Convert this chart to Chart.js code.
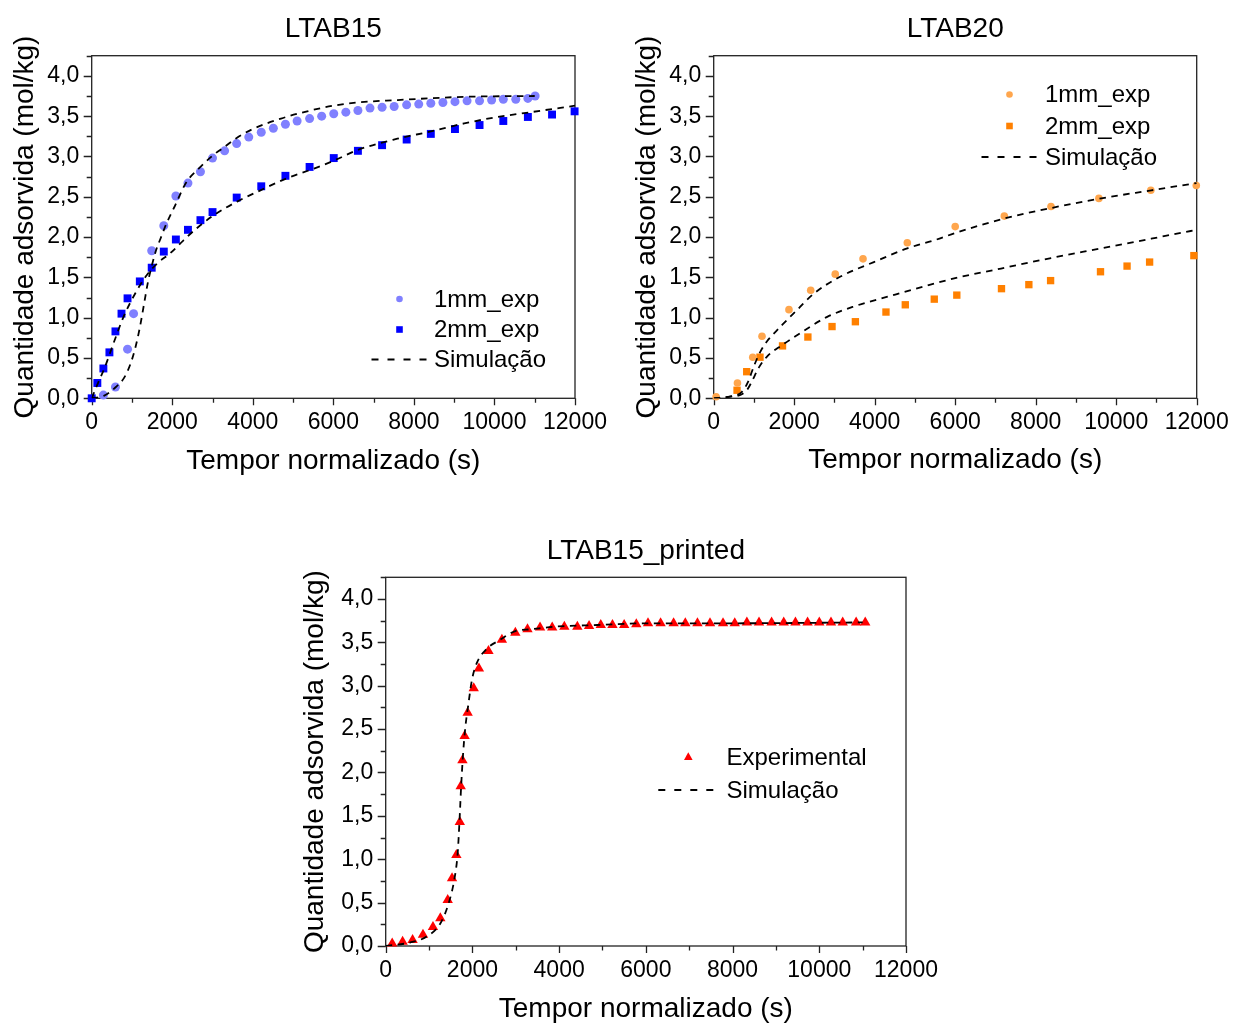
<!DOCTYPE html>
<html>
<head>
<meta charset="utf-8">
<script src="https://cdn.jsdelivr.net/npm/chart.js@4.4.1/dist/chart.umd.min.js"></script>
<style>
  html, body { margin: 0; padding: 0; background: #fff; overflow: hidden; }
  body { width: 1235px; height: 1027px; position: relative; }
  .box { position: absolute; }
</style>
</head>
<body>
<div class="box" style="left:0px;top:0px;width:620px;height:480px"><canvas id="c1"></canvas></div>
<div class="box" style="left:622px;top:0px;width:660px;height:480px"><canvas id="c2"></canvas></div>
<div class="box" style="left:294px;top:522px;width:660px;height:505px"><canvas id="c3"></canvas></div>
<script>
// ---- dados LTAB15 ----
const l15_t1mm = [290, 590, 890, 1040, 1490, 1790, 2090, 2390, 2700, 3000, 3300, 3600, 3900, 4210, 4510, 4810, 5100, 5410, 5710, 6010, 6310, 6610, 6910, 7210, 7510, 7820, 8120, 8420, 8720, 9020, 9320, 9630, 9930, 10220, 10530, 10830, 11010]
const l15_q1mm = [0.04, 0.14, 0.61, 1.05, 1.83, 2.14, 2.51, 2.67, 2.81, 2.98, 3.07, 3.16, 3.24, 3.30, 3.35, 3.40, 3.44, 3.47, 3.50, 3.53, 3.55, 3.57, 3.60, 3.61, 3.62, 3.64, 3.65, 3.66, 3.67, 3.68, 3.69, 3.69, 3.70, 3.71, 3.71, 3.72, 3.75]
const l15_t2mm = [0, 140, 290, 440, 590, 740, 890, 1195, 1490, 1790, 2090, 2390, 2700, 3000, 3600, 4210, 4810, 5410, 6010, 6610, 7210, 7820, 8420, 9020, 9630, 10220, 10830, 11430, 11990]
const l15_q2mm = [0.0, 0.19, 0.37, 0.57, 0.83, 1.05, 1.24, 1.45, 1.62, 1.82, 1.97, 2.09, 2.21, 2.31, 2.49, 2.63, 2.76, 2.87, 2.98, 3.07, 3.14, 3.21, 3.28, 3.34, 3.39, 3.44, 3.49, 3.52, 3.56]
const l15_simT1 = [0, 300, 600, 800, 950, 1080, 1200, 1310, 1400, 1500, 1600, 1700, 1850, 2050, 2350, 2700, 3000, 3300, 3600, 4000, 4700, 5350, 6000, 6600, 7600, 9250, 11000]
const l15_simQ1 = [0, 0.03, 0.14, 0.25, 0.41, 0.62, 0.89, 1.2, 1.45, 1.66, 1.84, 1.97, 2.16, 2.37, 2.68, 2.87, 3.01, 3.12, 3.23, 3.34, 3.47, 3.56, 3.63, 3.67, 3.70, 3.74, 3.75]
const l15_simT2 = [0, 140, 330, 540, 790, 1080, 1370, 1620, 1950, 2280, 2610, 3030, 3610, 4190, 4850, 5520, 6020, 6600, 7590, 8420, 9250, 10080, 10910, 12000]
const l15_simQ2 = [0, 0.17, 0.39, 0.68, 1.01, 1.30, 1.53, 1.67, 1.80, 1.96, 2.11, 2.27, 2.44, 2.58, 2.73, 2.85, 2.95, 3.08, 3.22, 3.31, 3.41, 3.49, 3.55, 3.63]

// ---- dados LTAB20 ----
const l20_t1mm = [60, 590, 970, 1200, 1870, 2410, 3020, 3710, 4810, 6000, 7220, 8380, 9570, 10860, 11990]
const l20_q1mm = [0.02, 0.19, 0.51, 0.77, 1.10, 1.34, 1.54, 1.73, 1.93, 2.13, 2.26, 2.38, 2.48, 2.58, 2.64]
const l20_t2mm = [580, 820, 1150, 1710, 2340, 2940, 3520, 4280, 4760, 5480, 6040, 7150, 7830, 8370, 9610, 10270, 10830, 11930]
const l20_q2mm = [0.10, 0.33, 0.51, 0.65, 0.76, 0.89, 0.95, 1.07, 1.16, 1.23, 1.28, 1.36, 1.41, 1.46, 1.57, 1.64, 1.69, 1.77]
const l20_simT1 = [0, 400, 700, 850, 1000, 1150, 1330, 1530, 1700, 2080, 2490, 3150, 3980, 4810, 5480, 6000, 7220, 8380, 9630, 10870, 12000]
const l20_simQ1 = [0, 0.02, 0.08, 0.2, 0.4, 0.57, 0.71, 0.82, 0.91, 1.10, 1.30, 1.51, 1.69, 1.86, 1.96, 2.05, 2.23, 2.36, 2.48, 2.58, 2.67]
const l20_simT2 = [0, 400, 700, 850, 950, 1120, 1330, 1700, 2030, 2820, 3490, 4320, 5310, 6000, 7140, 8380, 9630, 10870, 12000]
const l20_simQ2 = [0, 0.02, 0.05, 0.12, 0.21, 0.38, 0.52, 0.66, 0.77, 1.01, 1.14, 1.26, 1.40, 1.49, 1.61, 1.74, 1.86, 1.98, 2.09]

// ---- dados LTAB15_printed ----
const lp_t = [150, 390, 620, 860, 1090, 1260, 1430, 1530, 1630, 1710, 1730, 1770, 1820, 1890, 2030, 2150, 2370, 2680, 2990, 3270, 3560, 3840, 4120, 4420, 4690, 4960, 5230, 5500, 5780, 6050, 6340, 6640, 6910, 7190, 7480, 7780, 8050, 8330, 8610, 8900, 9180, 9450, 9730, 10000, 10270, 10540, 10850, 11060]
const lp_q = [0.03, 0.05, 0.07, 0.13, 0.22, 0.32, 0.53, 0.78, 1.05, 1.43, 1.84, 2.14, 2.42, 2.69, 2.97, 3.20, 3.40, 3.53, 3.61, 3.65, 3.67, 3.67, 3.68, 3.68, 3.69, 3.70, 3.70, 3.70, 3.71, 3.72, 3.72, 3.72, 3.72, 3.72, 3.72, 3.72, 3.72, 3.73, 3.73, 3.73, 3.73, 3.73, 3.73, 3.73, 3.73, 3.73, 3.73, 3.73]
const lp_simT = [0, 560, 950, 1260, 1450, 1580, 1660, 1700, 1740, 1780, 1830, 1910, 1990, 2100, 2320, 2640, 2990, 3340, 3880, 4880, 6040, 8000, 11000]
const lp_simQ = [0, 0.04, 0.11, 0.26, 0.49, 0.76, 1.07, 1.42, 1.84, 2.18, 2.49, 2.80, 3.07, 3.26, 3.42, 3.53, 3.63, 3.65, 3.68, 3.70, 3.72, 3.72, 3.73]

// eixos
const xTickValues = [0, 2000, 4000, 6000, 8000, 10000, 12000]
const yTickValues = [0, 0.5, 1, 1.5, 2, 2.5, 3, 3.5, 4]
const xLabel = 'Tempor normalizado (s)'
const yLabel = 'Quantidade adsorvida (mol/kg)'

Chart.defaults.font.family = '"Liberation Sans", Arial, sans-serif'
Chart.defaults.color = '#000'

const pts = (t, q) => t.map((v, i) => ({ x: v, y: q[i] }))

function marks(label, t, q, style, color, r) {
    return { label: label, data: pts(t, q), pointStyle: style, pointRadius: r, pointHoverRadius: r,
        backgroundColor: color, borderColor: color, borderWidth: 0, showLine: false, clip: false }
}
function sim(t, q) {
    return { label: 'Simulação', data: pts(t, q), showLine: true, pointRadius: 0, borderColor: '#000',
        borderWidth: 1.8, borderDash: [6.5, 5.5], cubicInterpolationMode: 'monotone', fill: false }
}

// desenha a moldura e os ticks (maiores e menores) para fora
const frame = {
    id: 'frame',
    beforeDatasetsDraw(chart) {
        const { ctx, chartArea: a, scales: { x, y } } = chart
        ctx.save()
        ctx.strokeStyle = '#222'
        ctx.lineWidth = 1.3
        ctx.strokeRect(a.left, a.top, a.right - a.left, a.bottom - a.top)
        ctx.beginPath()
        for (let v = 0; v <= 12000; v += 1000) {
            const px = Math.round(x.getPixelForValue(v)) + 0.5
            const len = v % 2000 === 0 ? 7 : 4.5
            ctx.moveTo(px, a.bottom); ctx.lineTo(px, a.bottom + len)
        }
        for (let v = 0; v <= 4.25; v += 0.25) {
            const py = Math.round(y.getPixelForValue(v)) + 0.5
            const len = Math.abs(v * 2 - Math.round(v * 2)) < 1e-6 ? 8 : 5
            ctx.moveTo(a.left, py); ctx.lineTo(a.left - len, py)
        }
        ctx.stroke()
        ctx.restore()
    }
}

function drawMark(ctx, style, x, y, r, color) {
    ctx.fillStyle = color
    ctx.beginPath()
    if (style === 'rect') {
        ctx.rect(x - r, y - r, 2 * r, 2 * r)
    } else if (style === 'triangle') {
        ctx.moveTo(x, y - r * 1.1)
        ctx.lineTo(x + r, y + r * 0.7)
        ctx.lineTo(x - r, y + r * 0.7)
        ctx.closePath()
    } else {
        ctx.arc(x, y, r, 0, Math.PI * 2)
    }
    ctx.fill()
}

// legenda dentro do gráfico
const boxLegend = {
    id: 'boxLegend',
    afterDraw(chart, args, o) {
        const ctx = chart.ctx
        ctx.save()
        ctx.font = '24px "Liberation Sans", Arial, sans-serif'
        ctx.textBaseline = 'middle'
        o.rows.forEach(row => {
            const ds = chart.data.datasets[row.ds]
            if (ds.showLine) {
                ctx.strokeStyle = ds.borderColor
                ctx.lineWidth = ds.borderWidth
                ctx.setLineDash([7, 9])
                ctx.beginPath()
                ctx.moveTo(o.lineX1, row.y); ctx.lineTo(o.lineX2, row.y)
                ctx.stroke()
                ctx.setLineDash([])
            } else {
                drawMark(ctx, ds.pointStyle, o.markX, row.y, o.markR, ds.backgroundColor)
            }
            ctx.fillStyle = '#000'
            ctx.fillText(ds.label, o.textX, row.y + 1)
        })
        ctx.restore()
    }
}

function makeChart(id, title, datasets, lay, legend) {
    return new Chart(document.getElementById(id), {
        type: 'scatter',
        data: { datasets: datasets },
        plugins: [frame, boxLegend],
        options: {
            responsive: true,
            maintainAspectRatio: false,
            animation: false,
            events: [],
            layout: { padding: { left: 0, right: lay.padRight, top: 0, bottom: 0 } },
            plugins: {
                legend: { display: false },
                tooltip: { enabled: false },
                title: { display: true, text: title, fullSize: false, color: '#000',
                    font: { size: 28, weight: 'normal' }, padding: { top: 12.9, bottom: lay.titleBottom } },
                boxLegend: legend
            },
            scales: {
                x: {
                    type: 'linear', min: 0, max: 12000,
                    afterBuildTicks: s => { s.ticks = xTickValues.map(v => ({ value: v })) },
                    ticks: { autoSkip: false, maxRotation: 0, padding: 11, font: { size: 23 }, callback: v => String(v) },
                    grid: { display: false, drawTicks: false },
                    border: { display: false },
                    title: { display: true, text: xLabel, font: { size: 28 }, padding: { top: 0, bottom: lay.xTitlePad } },
                    afterFit: s => { s.height = lay.xHeight }
                },
                y: {
                    type: 'linear', min: 0, max: 4.25,
                    afterBuildTicks: s => { s.ticks = yTickValues.map(v => ({ value: v })) },
                    ticks: { autoSkip: false, padding: 12.5, font: { size: 23 }, callback: v => v.toFixed(1).replace('.', ',') },
                    grid: { display: false, drawTicks: false },
                    border: { display: false },
                    title: { display: true, text: yLabel, font: { size: 28 }, padding: { top: lay.yTitlePad, bottom: 0 } },
                    afterFit: s => { s.width = 91.7 }
                }
            }
        }
    })
}

// LTAB15
makeChart('c1', 'LTAB15', [
    sim(l15_simT1, l15_simQ1),
    sim(l15_simT2, l15_simQ2),
    marks('1mm_exp', l15_t1mm, l15_q1mm, 'circle', '#8080FF', 4.5),
    marks('2mm_exp', l15_t2mm, l15_q2mm, 'rect', '#0000FF', 5.6)
], { padRight: 45, titleBottom: 9.2, xHeight: 81.7, xTitlePad: 1.5, yTitlePad: 8 },
{ markX: 399.5, markR: 3.3, textX: 434, lineX1: 371.5, lineX2: 427, rows: [{ ds: 2, y: 299 }, { ds: 3, y: 329.5 }, { ds: 0, y: 359.5 }] })

// LTAB20
makeChart('c2', 'LTAB20', [
    sim(l20_simT1, l20_simQ1),
    sim(l20_simT2, l20_simQ2),
    marks('1mm_exp', l20_t1mm, l20_q1mm, 'circle', '#FFA64D', 3.8),
    marks('2mm_exp', l20_t2mm, l20_q2mm, 'rect', '#FF8000', 5.2)
], { padRight: 85.3, titleBottom: 9.2, xHeight: 81.7, xTitlePad: 3, yTitlePad: 8 },
{ markX: 387.5, markR: 3.3, textX: 423, lineX1: 359.5, lineX2: 416, rows: [{ ds: 2, y: 94.5 }, { ds: 3, y: 126 }, { ds: 0, y: 157 }] })

// LTAB15_printed
makeChart('c3', 'LTAB15_printed', [
    sim(lp_simT, lp_simQ),
    marks('Experimental', lp_t, lp_q, 'triangle', '#FF0000', 6)
], { padRight: 48, titleBottom: 8.8, xHeight: 81, xTitlePad: 0.5, yTitlePad: 4 },
{ markX: 394.3, markR: 4.3, textX: 432.5, lineX1: 364.3, lineX2: 424, rows: [{ ds: 1, y: 235 }, { ds: 0, y: 268 }] })
</script>
</body>
</html>
